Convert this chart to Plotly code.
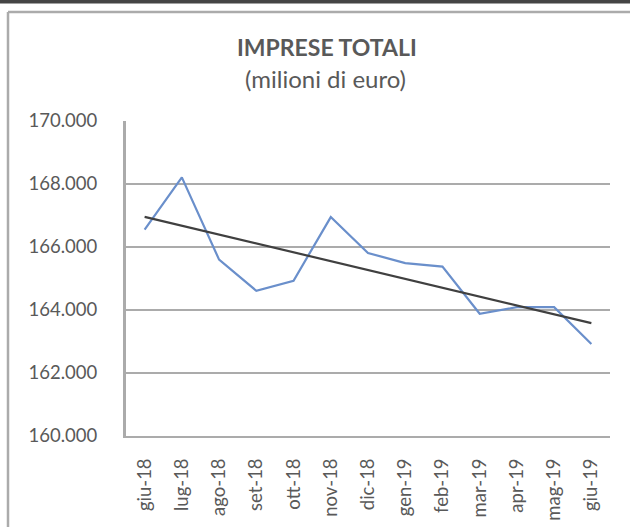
import numpy as np
import plotly.graph_objects as go

months = ["giu-18", "lug-18", "ago-18", "set-18", "ott-18", "nov-18", "dic-18",
          "gen-19", "feb-19", "mar-19", "apr-19", "mag-19", "giu-19"]
imprese_totali = [166550, 168210, 165600, 164610, 164930, 166950, 165810,
                  165490, 165380, 163880, 164090, 164090, 162920]
y_ticks = [160000, 162000, 164000, 166000, 168000, 170000]

# linear trend line (Excel-style least squares)
idx = np.arange(len(months))
slope, intercept = np.polyfit(idx, imprese_totali, 1)
trend = slope * idx + intercept

W, H = 630, 527
L, R, T, B = 126, 20, 121, 91
pw, ph = W - L - R, H - T - B

def px(x):
    return (x - L) / pw

def py(y):
    return (H - B - y) / ph

font = "Lato, 'Open Sans', sans-serif"
txt = "#595959"
grid = "#ababab"

fig = go.Figure()
fig.add_trace(go.Scatter(x=months, y=imprese_totali, mode="lines",
                         line=dict(color="#6a8fcb", width=2.2), showlegend=False))
fig.add_trace(go.Scatter(x=months, y=trend, mode="lines",
                         line=dict(color="#404040", width=2.2), showlegend=False))

shapes = [
    dict(type="rect", xref="paper", yref="paper", x0=px(-5), x1=px(W + 5),
         y0=py(3.5), y1=py(-5), fillcolor="#454545", line=dict(width=0), layer="above"),
    dict(type="line", xref="paper", yref="paper", x0=px(8), x1=px(W + 5),
         y0=py(12), y1=py(12), line=dict(color="#ababab", width=2.5), layer="above"),
    dict(type="line", xref="paper", yref="paper", x0=px(8), x1=px(8),
         y0=py(12), y1=py(H + 5), line=dict(color="#ababab", width=2.5), layer="above"),
]

fig.update_layout(
    width=W, height=H,
    margin=dict(l=L, r=R, t=T, b=B, autoexpand=False),
    paper_bgcolor="white", plot_bgcolor="white",
    separators=",.",
    showlegend=False,
    shapes=shapes,
    annotations=[
        dict(text="<b>IMPRESE TOTALI</b>", xref="paper", yref="paper",
             x=px(327), y=py(47), xanchor="center", yanchor="middle", showarrow=False,
             font=dict(family=font, size=23, color=txt)),
        dict(text="(milioni di euro)", xref="paper", yref="paper",
             x=px(325), y=py(78), xanchor="center", yanchor="middle", showarrow=False,
             font=dict(family=font, size=24, color=txt)),
    ],
    xaxis=dict(
        type="category", categoryorder="array", categoryarray=months,
        tickangle=-90, tickfont=dict(family=font, size=18.5, color=txt),
        showgrid=False, showline=True, linecolor=grid, linewidth=2,
        ticks="", ticklen=0, range=[-0.5, len(months) - 0.5],
        ticklabelstandoff=13, automargin=False,
    ),
    yaxis=dict(
        range=[160000, 170000], tickvals=y_ticks, tickformat=",.0f",
        tickfont=dict(family=font, size=18.5, color=txt),
        showgrid=True, gridcolor=grid, gridwidth=2,
        showline=True, linecolor=grid, linewidth=3, ticks="",
        zeroline=False, ticklabelstandoff=22, automargin=False,
    ),
)

fig.write_html("out.html", config={"displayModeBar": False},
               post_script="document.body.style.margin='0';")
